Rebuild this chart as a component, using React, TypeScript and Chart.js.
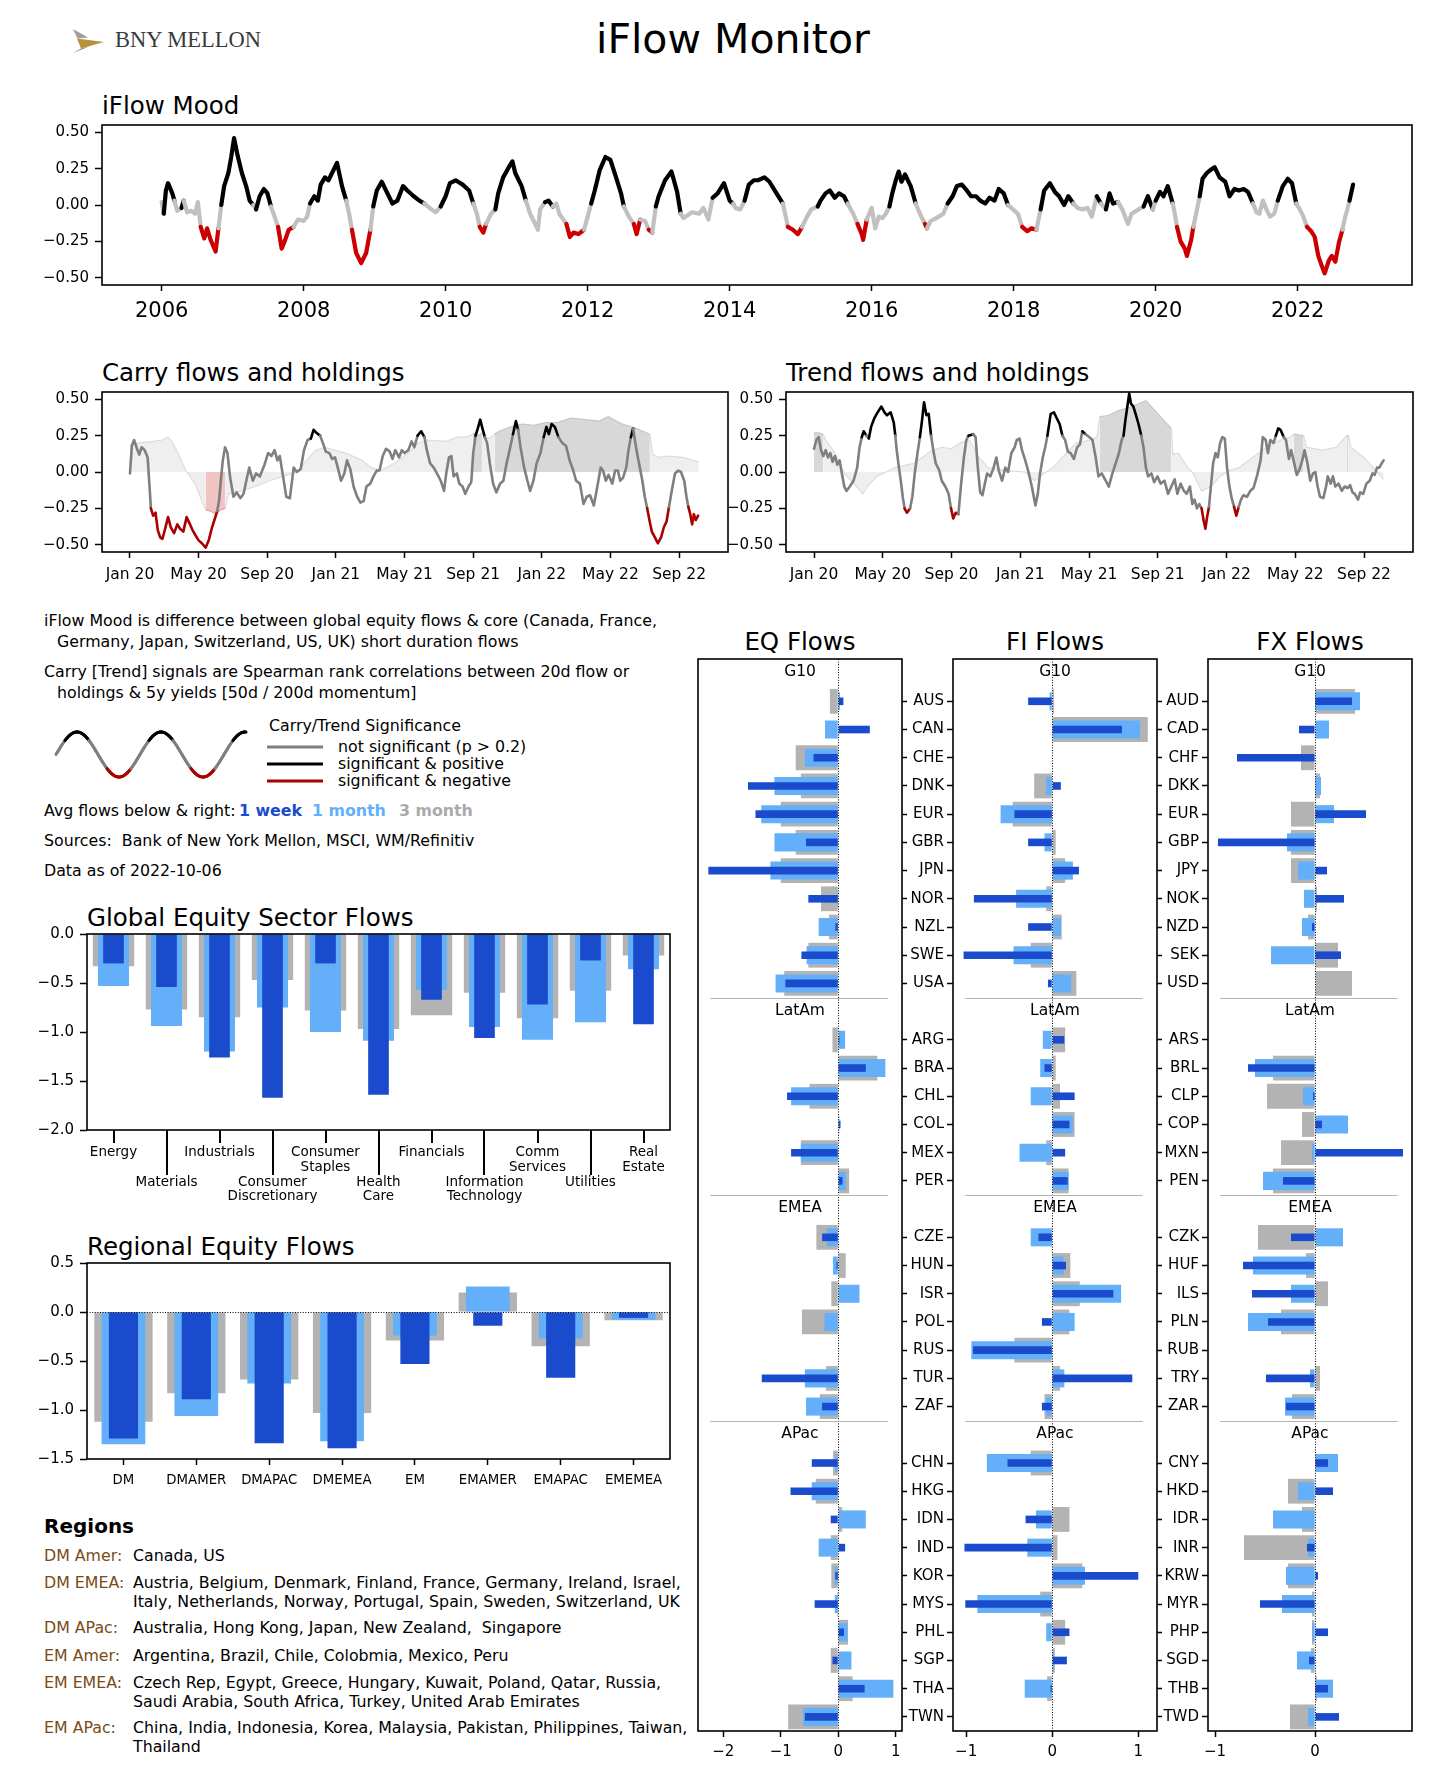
import React, { useEffect, useRef } from 'react';
import { Chart, registerables } from 'chart.js';

Chart.register(...registerables);

const FONT = '"DejaVu Sans", "Noto Sans", sans-serif';
const SERIF = '"Liberation Serif", "DejaVu Serif", serif';
Chart.defaults.font.family = FONT;
Chart.defaults.color = '#000';

// ======================= DATA =======================
// iFlow Mood (year, value)
const moodYears = [
  2006.00,2006.03,2006.06,2006.09,2006.15,2006.18,2006.22,2006.28,2006.31,2006.36,
  2006.42,2006.47,2006.51,2006.55,2006.60,2006.64,2006.69,2006.76,2006.80,2006.84,
  2006.88,2006.94,2006.98,2007.02,2007.07,2007.13,2007.19,2007.24,2007.29,2007.33,
  2007.38,2007.44,2007.49,2007.54,2007.59,2007.64,2007.69,2007.74,2007.79,2007.86,
  2007.92,2008.00,2008.05,2008.09,2008.15,2008.20,2008.24,2008.30,2008.35,2008.40,
  2008.47,2008.54,2008.60,2008.64,2008.68,2008.74,2008.81,2008.88,2008.94,2008.98,
  2009.03,2009.10,2009.18,2009.25,2009.32,2009.40,2009.46,2009.55,2009.63,2009.70,
  2009.80,2009.86,2009.93,2010.00,2010.06,2010.14,2010.24,2010.33,2010.39,2010.44,
  2010.48,2010.53,2010.57,2010.64,2010.70,2010.74,2010.81,2010.89,2010.94,2010.98,
  2011.07,2011.13,2011.19,2011.23,2011.30,2011.33,2011.40,2011.45,2011.51,2011.56,
  2011.60,2011.70,2011.75,2011.80,2011.87,2011.95,2012.00,2012.05,2012.10,2012.17,
  2012.25,2012.32,2012.40,2012.47,2012.51,2012.58,2012.65,2012.69,2012.74,2012.81,
  2012.86,2012.91,2012.96,2013.00,2013.09,2013.18,2013.26,2013.31,2013.35,2013.47,
  2013.57,2013.63,2013.70,2013.76,2013.83,2013.92,2014.00,2014.05,2014.08,2014.15,
  2014.21,2014.27,2014.34,2014.40,2014.49,2014.56,2014.66,2014.75,2014.79,2014.82,
  2014.89,2014.96,2015.02,2015.09,2015.15,2015.24,2015.28,2015.35,2015.41,2015.48,
  2015.54,2015.61,2015.66,2015.74,2015.80,2015.86,2015.88,2015.93,2016.00,2016.05,
  2016.10,2016.15,2016.20,2016.25,2016.29,2016.34,2016.38,2016.42,2016.47,2016.55,
  2016.62,2016.68,2016.75,2016.78,2016.83,2016.91,2017.01,2017.07,2017.14,2017.20,
  2017.27,2017.34,2017.40,2017.47,2017.53,2017.60,2017.66,2017.73,2017.79,2017.86,
  2017.92,2017.99,2018.06,2018.12,2018.19,2018.25,2018.32,2018.38,2018.43,2018.51,
  2018.58,2018.64,2018.71,2018.77,2018.84,2018.90,2018.97,2019.04,2019.10,2019.17,
  2019.23,2019.30,2019.35,2019.40,2019.47,2019.53,2019.61,2019.66,2019.76,2019.83,
  2019.89,2019.96,2020.00,2020.06,2020.11,2020.17,2020.24,2020.27,2020.30,2020.35,
  2020.41,2020.44,2020.50,2020.53,2020.57,2020.62,2020.66,2020.72,2020.77,2020.83,
  2020.90,2020.98,2021.04,2021.11,2021.17,2021.24,2021.30,2021.37,2021.42,2021.46,
  2021.51,2021.56,2021.61,2021.67,2021.72,2021.79,2021.86,2021.92,2021.98,2022.03,
  2022.08,2022.13,2022.19,2022.24,2022.29,2022.34,2022.38,2022.44,2022.48,2022.53,
  2022.58,2022.63,2022.67,2022.70,2022.73,2022.78,
];
const moodValues = [
  0.02,-0.06,0.10,0.15,0.08,0.03,-0.04,-0.02,0.03,-0.05,
  -0.04,-0.06,0.02,-0.15,-0.23,-0.16,-0.24,-0.32,-0.16,0.00,
  0.13,0.22,0.33,0.46,0.34,0.22,0.13,0.03,0.00,-0.03,
  0.06,0.11,0.08,-0.01,-0.08,-0.15,-0.30,-0.24,-0.17,-0.15,
  -0.10,-0.11,-0.08,0.01,0.06,0.03,0.14,0.19,0.17,0.22,
  0.29,0.13,0.03,-0.06,-0.17,-0.33,-0.40,-0.33,-0.17,-0.01,
  0.10,0.16,0.08,0.01,0.03,0.13,0.10,0.06,0.03,0.01,
  -0.03,-0.05,-0.01,0.06,0.15,0.17,0.14,0.10,0.01,-0.06,
  -0.15,-0.19,-0.13,-0.06,-0.03,0.08,0.19,0.26,0.30,0.22,
  0.13,0.03,-0.06,-0.10,-0.17,-0.03,0.02,0.03,-0.01,0.01,
  -0.06,-0.13,-0.22,-0.19,-0.20,-0.17,-0.08,0.01,0.10,0.24,
  0.33,0.31,0.19,0.08,-0.01,-0.08,-0.13,-0.20,-0.10,-0.11,
  -0.17,-0.19,-0.01,0.06,0.17,0.23,0.09,-0.06,-0.09,-0.05,
  -0.06,-0.02,-0.10,0.05,0.08,0.15,0.03,0.01,-0.02,-0.03,
  0.03,0.14,0.17,0.17,0.19,0.16,0.08,0.01,-0.08,-0.15,
  -0.17,-0.20,-0.15,-0.08,-0.03,-0.01,0.03,0.08,0.10,0.05,
  0.08,0.06,0.01,-0.06,-0.13,-0.20,-0.24,-0.10,-0.02,-0.16,
  -0.08,-0.09,-0.06,-0.01,0.08,0.17,0.23,0.16,0.21,0.13,
  0.01,-0.06,-0.13,-0.16,-0.11,-0.09,-0.06,0.01,0.06,0.13,
  0.14,0.10,0.06,0.06,0.03,0.01,0.05,0.03,0.11,0.08,
  0.00,-0.03,-0.06,-0.15,-0.18,-0.16,-0.17,-0.03,0.10,0.15,
  0.09,0.06,0.00,0.06,0.01,-0.02,-0.03,-0.02,-0.08,0.06,
  0.01,-0.03,0.08,0.01,0.02,-0.03,-0.13,-0.06,-0.03,-0.01,
  0.06,-0.03,0.03,0.09,0.06,0.13,0.01,-0.06,-0.15,-0.25,
  -0.30,-0.35,-0.24,-0.15,-0.06,0.06,0.18,0.22,0.24,0.26,
  0.19,0.16,0.06,0.11,0.10,0.11,0.09,0.01,-0.05,-0.06,
  0.03,-0.03,-0.08,-0.06,0.03,0.13,0.18,0.15,0.01,-0.03,
  -0.08,-0.15,-0.18,-0.22,-0.35,-0.42,-0.47,-0.38,-0.35,-0.39,
  -0.26,-0.17,-0.08,-0.03,0.03,0.14,
];
const moodYearTicks = [2006, 2008, 2010, 2012, 2014, 2016, 2018, 2020, 2022];
const corrTicks = [-0.5, -0.25, 0, 0.25, 0.5];

// Carry / Trend: x = months since Jan 2020
const monthTicks = [0, 4, 8, 12, 16, 20, 24, 28, 32];
const monthLabels = ['Jan 20', 'May 20', 'Sep 20', 'Jan 21', 'May 21', 'Sep 21', 'Jan 22', 'May 22', 'Sep 22'];

const carryFlowM = [
  0,0.11,0.24,0.41,0.54,0.68,0.86,1.03,1.14,1.22,
  1.35,1.49,1.62,1.76,1.89,2.05,2.22,2.38,2.57,2.76,
  2.92,3.11,3.30,3.46,3.65,3.84,4.00,4.19,4.41,4.59,
  4.76,4.92,5.08,5.19,5.30,5.41,5.54,5.68,5.84,6.03,
  6.22,6.43,6.62,6.78,6.95,7.16,7.35,7.57,7.84,8.05,
  8.24,8.43,8.59,8.73,8.92,9.11,9.32,9.54,9.73,9.95,
  10.14,10.35,10.54,10.70,10.86,11.08,11.24,11.41,11.62,11.78,
  11.95,12.11,12.30,12.49,12.65,12.84,13.03,13.24,13.43,13.62,
  13.78,14.00,14.19,14.38,14.54,14.73,14.92,15.14,15.30,15.46,
  15.68,15.84,16.00,16.22,16.41,16.57,16.76,16.97,17.16,17.30,
  17.49,17.70,17.89,18.11,18.30,18.43,18.59,18.73,18.86,19.05,
  19.19,19.38,19.54,19.73,19.89,20.00,20.14,20.27,20.41,20.54,
  20.68,20.81,20.97,21.16,21.35,21.57,21.76,21.95,22.16,22.32,
  22.49,22.62,22.76,22.97,23.16,23.32,23.51,23.70,23.92,24.11,
  24.27,24.41,24.57,24.76,24.97,25.19,25.41,25.62,25.81,26.00,
  26.22,26.43,26.62,26.81,27.03,27.22,27.43,27.57,27.73,27.89,
  28.11,28.27,28.43,28.57,28.73,28.92,29.05,29.19,29.32,29.49,
  29.68,29.86,30.00,30.14,30.27,30.41,30.59,30.76,30.95,31.11,
  31.27,31.41,31.57,31.76,31.95,32.11,32.30,32.43,32.54,32.65,
  32.76,32.86,32.97,33.11,
];
const carryFlowV = [
  -0.01,0.18,0.22,0.16,0.12,0.17,0.15,0.10,-0.10,-0.25,
  -0.30,-0.28,-0.40,-0.45,-0.46,-0.39,-0.31,-0.38,-0.42,-0.36,
  -0.39,-0.41,-0.31,-0.35,-0.40,-0.44,-0.47,-0.49,-0.52,-0.47,
  -0.39,-0.33,-0.27,-0.20,-0.05,0.08,0.17,0.13,-0.04,-0.17,
  -0.14,-0.18,-0.15,-0.06,0.03,-0.06,-0.01,-0.03,0.05,0.13,
  0.11,0.15,0.08,0.11,-0.03,-0.17,-0.18,0.03,0.00,0.02,
  0.15,0.22,0.23,0.29,0.27,0.25,0.20,0.14,0.13,0.09,
  0.10,0.03,-0.06,-0.01,0.08,0.02,-0.10,-0.17,-0.21,-0.20,
  -0.10,-0.08,-0.03,0.01,0.01,0.11,0.16,0.14,0.09,0.15,
  0.10,0.15,0.13,0.15,0.21,0.17,0.25,0.28,0.24,0.15,
  0.06,0.03,-0.01,-0.06,-0.13,-0.01,0.10,0.11,-0.03,-0.01,
  -0.08,-0.10,-0.15,-0.10,-0.07,0.13,0.25,0.30,0.36,0.30,
  0.24,0.20,0.06,-0.08,-0.14,-0.08,-0.06,0.06,0.17,0.26,
  0.35,0.29,0.17,0.03,-0.06,-0.13,-0.06,0.06,0.13,0.24,
  0.31,0.26,0.33,0.31,0.24,0.20,0.18,0.08,0.02,-0.06,
  -0.08,-0.22,-0.17,-0.16,-0.23,-0.11,0.03,0.01,-0.06,-0.02,
  -0.08,0.01,0.01,-0.06,-0.04,0.03,0.15,0.24,0.30,0.17,
  0.05,-0.06,-0.17,-0.25,-0.33,-0.41,-0.45,-0.49,-0.45,-0.38,
  -0.34,-0.24,-0.13,-0.01,0.01,0.00,-0.06,-0.17,-0.24,-0.29,
  -0.36,-0.29,-0.33,-0.30,
];
const carryHoldM = [
  0,0.54,1.35,1.89,2.22,2.49,2.84,3.25,3.79,4.19,
  4.41,4.73,5.00,5.28,5.55,5.74,6.49,7.31,8.12,8.93,
  9.74,10.28,10.82,11.36,11.90,12.58,13.53,14.07,14.61,15.42,
  16.23,16.77,17.32,18.40,19.07,19.62,19.97,20.16,20.35,20.51,
  20.70,20.97,21.24,21.51,22.19,22.86,23.54,24.22,24.89,25.70,
  26.52,27.33,27.87,28.68,29.49,30.30,30.47,30.84,31.39,32.20,
  33.14,
];
const carryHoldV = [
  0.18,0.20,0.21,0.22,0.24,0.20,0.12,0.01,-0.08,-0.20,
  -0.26,-0.27,-0.29,-0.26,-0.25,-0.15,-0.13,-0.10,-0.06,-0.03,
  0.00,0.08,0.15,0.17,0.15,0.13,0.08,0.03,0.01,0.06,
  0.13,0.20,0.22,0.21,0.24,0.24,0.26,0.27,0.25,0.27,
  0.24,0.23,0.26,0.28,0.31,0.33,0.32,0.34,0.34,0.37,
  0.36,0.35,0.38,0.33,0.30,0.26,0.12,0.10,0.11,0.10,
  0.07,
];
const trendFlowM = [
  0,0.14,0.27,0.41,0.54,0.68,0.81,0.95,1.08,1.22,
  1.35,1.49,1.62,1.76,1.89,2.08,2.30,2.51,2.65,2.78,
  2.89,3.05,3.19,3.32,3.51,3.70,3.92,4.10,4.24,4.46,
  4.64,4.73,4.81,4.94,5.05,5.16,5.27,5.40,5.59,5.72,
  5.86,6.02,6.16,6.29,6.40,6.54,6.67,6.81,6.94,7.08,
  7.29,7.43,7.64,7.83,7.97,8.10,8.24,8.40,8.56,8.72,
  8.86,8.99,9.26,9.40,9.53,9.67,9.80,9.94,10.07,10.26,
  10.45,10.61,10.75,10.94,11.13,11.29,11.48,11.67,11.80,11.96,
  12.10,12.29,12.50,12.69,12.88,13.02,13.15,13.31,13.45,13.58,
  13.77,13.96,14.12,14.29,14.45,14.61,14.77,14.93,15.12,15.31,
  15.47,15.61,15.80,16.01,16.20,16.39,16.55,16.74,16.93,17.15,
  17.36,17.55,17.74,17.90,18.01,18.12,18.23,18.34,18.44,18.58,
  18.71,18.88,19.04,19.17,19.31,19.44,19.63,19.79,19.98,20.17,
  20.39,20.60,20.79,20.98,21.14,21.33,21.52,21.68,21.87,22.01,
  22.14,22.28,22.41,22.55,22.68,22.77,22.87,22.98,23.09,23.22,
  23.36,23.49,23.63,23.76,23.90,24.03,24.17,24.30,24.44,24.57,
  24.71,24.84,24.98,25.20,25.38,25.57,25.79,25.98,26.11,26.28,
  26.41,26.55,26.74,26.87,27.01,27.14,27.33,27.46,27.63,27.76,
  27.90,28.09,28.22,28.41,28.54,28.71,28.87,29.03,29.17,29.30,
  29.44,29.63,29.79,29.89,30.06,30.19,30.33,30.52,30.71,30.87,
  31.06,31.19,31.33,31.46,31.65,31.78,31.95,32.14,32.33,32.49,
  32.62,32.76,32.89,33.03,33.14,
];
const trendFlowV = [
  0.16,0.22,0.24,0.15,0.11,0.15,0.10,0.13,0.07,0.11,
  0.05,0.08,-0.01,-0.10,-0.13,-0.10,-0.06,0.03,0.17,0.24,
  0.28,0.25,0.23,0.31,0.37,0.41,0.45,0.41,0.39,0.41,
  0.34,0.25,0.15,0.03,-0.06,-0.17,-0.25,-0.28,-0.25,-0.17,
  -0.01,0.13,0.24,0.36,0.48,0.39,0.40,0.25,0.15,0.06,
  0.01,-0.06,-0.10,-0.15,-0.25,-0.32,-0.28,-0.29,-0.08,0.10,
  0.22,0.25,0.26,0.24,0.03,-0.14,-0.16,-0.08,-0.01,-0.03,
  0.03,0.10,0.01,-0.06,0.03,0.00,0.13,0.17,0.22,0.23,
  0.15,0.08,-0.01,-0.11,-0.23,-0.15,-0.01,0.10,0.17,0.25,
  0.40,0.41,0.37,0.33,0.25,0.22,0.14,0.13,0.09,0.17,
  0.19,0.28,0.26,0.24,0.22,0.10,-0.03,-0.01,-0.05,-0.10,
  -0.01,0.06,0.13,0.22,0.25,0.36,0.45,0.54,0.47,0.45,
  0.40,0.33,0.25,0.17,0.03,-0.03,-0.01,-0.07,-0.03,-0.08,
  -0.06,-0.15,-0.10,-0.05,-0.15,-0.08,-0.13,-0.15,-0.10,-0.22,
  -0.19,-0.25,-0.22,-0.25,-0.34,-0.39,-0.31,-0.24,-0.10,0.06,
  0.13,0.10,0.20,0.24,0.23,0.03,-0.10,-0.18,-0.24,-0.30,
  -0.24,-0.19,-0.16,-0.17,-0.13,-0.11,-0.02,0.08,0.24,0.22,
  0.13,0.22,0.20,0.25,0.30,0.29,0.24,0.22,0.09,0.15,
  0.08,-0.02,0.01,0.08,0.15,0.06,-0.06,-0.01,0.00,-0.10,
  -0.17,-0.18,-0.10,-0.03,-0.08,-0.03,-0.10,-0.08,-0.13,-0.10,
  -0.11,-0.09,-0.14,-0.15,-0.19,-0.14,-0.15,-0.08,-0.06,-0.01,
  -0.02,0.03,0.03,0.06,0.08,
];
const trendHoldM = [
  0,0.27,0.54,0.68,1.22,1.76,2.30,2.84,3.11,3.65,
  4.19,4.73,5.81,6.89,7.43,7.97,8.51,9.05,9.59,10.13,
  11.21,12.29,12.83,13.37,13.91,14.45,15.26,16.07,16.47,16.61,
  17.15,17.69,18.50,19.31,19.85,20.39,20.79,20.88,21.20,21.74,
  22.01,22.55,23.09,23.63,24.17,24.71,25.52,26.33,27.14,27.73,
  27.90,28.49,28.65,29.57,30.38,31.00,31.10,31.23,31.98,32.79,
  33.14,
];
const trendHoldV = [
  0.27,0.27,0.26,0.22,0.13,-0.01,-0.08,-0.15,-0.10,-0.03,
  0.00,0.03,0.06,0.15,0.17,0.16,0.20,0.22,0.10,0.03,
  0.01,0.00,-0.06,-0.01,0.03,0.10,0.20,0.22,0.24,0.38,
  0.39,0.42,0.45,0.49,0.42,0.35,0.30,0.12,0.13,0.03,
  0.00,-0.13,-0.10,-0.03,0.01,0.03,0.10,0.17,0.22,0.24,
  0.26,0.25,0.17,0.15,0.17,0.25,0.25,0.17,0.10,0.00,
  -0.05,
];

// Global equity sector flows
const sectorNames = [
  ['Energy'], ['Materials'], ['Industrials'], ['Consumer', 'Discretionary'], ['Consumer', 'Staples'],
  ['Health', 'Care'], ['Financials'], ['Information', 'Technology'], ['Comm', 'Services'], ['Utilities'], ['Real', 'Estate'],
];
const sector1w = [-0.30, -0.54, -1.26, -1.67, -0.30, -1.64, -0.67, -1.06, -0.72, -0.27, -0.92];
const sector1m = [-0.53, -0.94, -1.20, -0.75, -1.00, -1.09, -0.57, -0.95, -1.08, -0.90, -0.36];
const sector3m = [-0.33, -0.77, -0.85, -0.47, -0.78, -0.97, -0.83, -0.60, -0.86, -0.58, -0.22];
const sectorTicks = [-2, -1.5, -1, -0.5, 0];

// Regional equity flows
const regionNames = ['DM', 'DMAMER', 'DMAPAC', 'DMEMEA', 'EM', 'EMAMER', 'EMAPAC', 'EMEMEA'];
const region1w = [-1.29, -0.89, -1.34, -1.39, -0.53, -0.14, -0.67, -0.06];
const region1m = [-1.35, -1.06, -0.73, -1.32, -0.24, 0.26, -0.27, -0.08];
const region3m = [-1.12, -0.83, -0.69, -1.03, -0.29, 0.20, -0.35, -0.085];
const regionTicks = [-1.5, -1, -0.5, 0, 0.5];

// EQ / FI / FX flows by country
const groupNames = ['G10', 'LatAm', 'EMEA', 'APac'];
const groupSizes = [11, 6, 7, 10];
const countryCodes = ['AUS','CAN','CHE','DNK','EUR','GBR','JPN','NOR','NZL','SWE','USA','ARG','BRA','CHL','COL','MEX','PER','CZE','HUN','ISR','POL','RUS','TUR','ZAF','CHN','HKG','IDN','IND','KOR','MYS','PHL','SGP','THA','TWN'];
const currencyCodes = ['AUD','CAD','CHF','DKK','EUR','GBP','JPY','NOK','NZD','SEK','USD','ARS','BRL','CLP','COP','MXN','PEN','CZK','HUF','ILS','PLN','RUB','TRY','ZAR','CNY','HKD','IDR','INR','KRW','MYR','PHP','SGD','THB','TWD'];

const eq1w = [0.09,0.55,-0.43,-1.57,-1.44,-0.56,-2.26,-0.52,-0.05,-0.64,-0.92, 0.02,0.48,-0.89,0.04,-0.82,0.075, -0.28,-0.03,0.01,0,0,-1.33,-0.28, -0.46,-0.83,-0.13,0.12,-0.05,-0.41,0.10,-0.10,0.46,-0.58];
const eq1m = [0.03,-0.23,-0.58,-1.11,-1.34,-1.11,-1.18,-0.02,-0.34,-0.55,-1.09, 0.12,0.82,-0.82,0.02,-0.65,0.13, -0.20,-0.09,0.37,-0.24,0,-0.58,-0.56, -0.05,-0.46,0.48,-0.34,-0.06,-0.06,0.16,0.23,0.96,-0.61];
const eq3m = [-0.145,0,-0.74,-0.65,-1.00,-0.74,-1.00,-0.30,-0.16,-0.52,-0.94, -0.10,0.68,-0.50,0,-0.65,0.19, -0.38,0.13,-0.12,-0.63,0,-0.21,-0.32, -0.09,-0.39,0.07,-0.13,-0.12,-0.02,0.17,-0.13,0.25,-0.87];
const fi1w = [-0.28,0.81,0,0.10,-0.44,-0.28,0.31,-0.91,-0.28,-1.03,-0.05, 0.14,-0.09,0.26,0.20,0.15,0.18, -0.16,0.16,0.71,-0.12,-0.92,0.93,-0.12, -0.52,0,-0.31,-1.02,1.00,-1.01,0.20,0.17,-0.02,0];
const fi1m = [-0.03,1.02,0,-0.07,-0.60,-0.09,0.24,-0.42,0.10,-0.45,0.22, -0.11,-0.14,-0.25,0.24,-0.38,0.19, -0.25,0.13,0.80,0.26,-0.94,0.14,-0.07, -0.76,0,-0.19,-0.29,0.38,-0.87,-0.07,0.02,-0.32,0];
const fi3m = [0.02,1.11,0,-0.21,-0.46,0.04,0.15,-0.07,0.11,-0.25,0.28, 0.15,0.04,0.09,0.26,-0.07,0.19, -0.01,0.21,0.32,0.20,-0.44,0.09,-0.09, -0.25,0,0.20,0.06,0.35,-0.14,0.15,0.03,-0.06,0];
const fx1w = [0.37,-0.16,-0.78,0,0.51,-0.97,0.12,0.29,-0.03,0.26,0, 0,-0.67,-0.02,0.07,0.88,-0.32, -0.24,-0.72,-0.63,-0.47,0,-0.49,-0.29, 0.13,0.18,0,-0.08,0.03,-0.55,0.13,-0.06,0.13,0.24];
const fx1m = [0.45,0.14,0,0.06,0.19,-0.28,-0.17,-0.11,-0.13,-0.44,0, 0,-0.60,-0.12,0.33,-0.03,-0.52, 0.28,-0.62,-0.24,-0.67,0,-0.05,-0.30, 0.23,-0.17,-0.42,-0.07,-0.29,-0.33,-0.03,-0.18,0.18,-0.07];
const fx3m = [0.40,0,-0.14,0.05,-0.24,-0.24,-0.24,0.02,-0.07,0.23,0.37, 0,-0.42,-0.48,-0.13,-0.34,-0.42, -0.57,-0.09,0.13,-0.34,0,0.05,-0.23, 0,-0.27,-0.13,-0.71,-0.27,-0.03,-0.03,-0.04,0.02,-0.25];
const eqTicks = [-2, -1, 0, 1];
const fiTicks = [-1, 0, 1];
const fxTicks = [-1, 0];

// Regions legend
const regionRowLabels = ['DM Amer:', 'DM EMEA:', 'DM APac:', 'EM Amer:', 'EM EMEA:', 'EM APac:'];
const regionRowText = [
  ['Canada, US'],
  ['Austria, Belgium, Denmark, Finland, France, Germany, Ireland, Israel,', 'Italy, Netherlands, Norway, Portugal, Spain, Sweden, Switzerland, UK'],
  ['Australia, Hong Kong, Japan, New Zealand,  Singapore'],
  ['Argentina, Brazil, Chile, Colobmia, Mexico, Peru'],
  ['Czech Rep, Egypt, Greece, Hungary, Kuwait, Poland, Qatar, Russia,', 'Saudi Arabia, South Africa, Turkey, United Arab Emirates'],
  ['China, India, Indonesia, Korea, Malaysia, Pakistan, Philippines, Taiwan,', 'Thailand'],
];

// ======================= STYLE =======================
const DARK = '#1a4bcc';
const LIGHT = '#63affa';
const GREY = '#b3b3b3';
const SIG_GREY = '#7f7f7f';
const SIG_RED = '#aa0000';
const MINUS = '\u2212';

const fmt = (v: number, d: number) => (v < -1e-9 ? MINUS : '') + Math.abs(v).toFixed(d);
const pts = (xs: number[], ys: number[]) => xs.map((x, i) => ({ x, y: ys[i] }));
const setTicks = (vals: number[]) => (s: any) => { s.ticks = vals.map((v) => ({ value: v })); };
const zeroPad = (s: any) => { s.paddingLeft = 0; s.paddingRight = 0; s.paddingTop = 0; s.paddingBottom = 0; };
const fixW = (w: number) => (s: any) => { s.width = w; zeroPad(s); };
const fixH = (h: number) => (s: any) => { s.height = h; zeroPad(s); };
const tickGrid = (len: number, color: any = '#000') => ({
  display: true, drawOnChartArea: false, drawTicks: true, tickLength: len, tickWidth: 1.5, tickColor: color, offset: false,
});
const noBorder = { display: false };

const moodColor = (v: number) => (v > 0 ? '#000' : v < -0.145 ? '#cc0000' : '#c0c0c0');
const sigColor = (v: number) => (v > 0.25 ? '#000' : v < -0.25 ? SIG_RED : SIG_GREY);
const holdSig = (c: any) => {
  const a = c.p0.parsed.y, b = c.p1.parsed.y;
  if (Math.min(a, b) > 0.245) return 1;
  if (Math.max(a, b) < -0.245) return -1;
  return 0;
};

const framePlugin = {
  id: 'frame',
  afterDraw(chart: any) {
    const { ctx, chartArea: a } = chart;
    ctx.save();
    ctx.strokeStyle = '#000';
    ctx.lineWidth = 1.6;
    ctx.strokeRect(a.left, a.top, a.right - a.left, a.bottom - a.top);
    ctx.restore();
  },
};

const hZeroPlugin = {
  id: 'hZero',
  afterDatasetsDraw(chart: any) {
    const { ctx, chartArea: a, scales } = chart;
    const y0 = Math.round(scales.y.getPixelForValue(0)) + 0.5;
    ctx.save();
    ctx.strokeStyle = '#000';
    ctx.lineWidth = 1;
    ctx.setLineDash([1, 1.6]);
    ctx.beginPath();
    ctx.moveTo(a.left, y0);
    ctx.lineTo(a.right, y0);
    ctx.stroke();
    ctx.restore();
  },
};

const sectorTickPlugin = {
  id: 'sectorTicks',
  afterDraw(chart: any) {
    const { ctx, chartArea: a, scales } = chart;
    const x = scales.x;
    ctx.save();
    ctx.strokeStyle = '#000';
    ctx.lineWidth = 2;
    x.ticks.forEach((_t: any, i: number) => {
      const px = Math.round(x.getPixelForTick(i));
      const len = i % 2 ? 45 : 13;
      ctx.beginPath();
      ctx.moveTo(px, a.bottom);
      ctx.lineTo(px, a.bottom + len);
      ctx.stroke();
    });
    ctx.restore();
  },
};

// slot layout for the country panels: a header slot before each group
const headerIdx: number[] = [];
(() => { let k = 0; groupSizes.forEach((n) => { headerIdx.push(k); k += n + 1; }); })();
function slots(vals: any[], header: any) {
  const out: any[] = [];
  let k = 0;
  groupSizes.forEach((n) => {
    out.push(header);
    for (let i = 0; i < n; i++) out.push(vals[k++]);
  });
  return out;
}

const flowDecorPlugin = {
  id: 'flowDecor',
  afterDatasetsDraw(chart: any) {
    const { ctx, chartArea: a, scales } = chart;
    const x = scales.x, y = scales.y;
    const w = a.right - a.left;
    ctx.save();
    const x0 = Math.round(x.getPixelForValue(0)) + 0.5;
    ctx.strokeStyle = '#000';
    ctx.lineWidth = 1;
    ctx.setLineDash([1, 1.6]);
    ctx.beginPath();
    ctx.moveTo(x0, a.top);
    ctx.lineTo(x0, a.bottom);
    ctx.stroke();
    ctx.setLineDash([]);
    ctx.strokeStyle = '#b4b4b4';
    headerIdx.slice(1).forEach((h) => {
      const yy = Math.round(y.getPixelForValue(h - 0.5)) + 0.5;
      ctx.beginPath();
      ctx.moveTo(a.left + 0.06 * w, yy);
      ctx.lineTo(a.left + 0.93 * w, yy);
      ctx.stroke();
    });
    ctx.fillStyle = '#000';
    ctx.font = `15.5px ${FONT}`;
    ctx.textAlign = 'center';
    ctx.textBaseline = 'middle';
    headerIdx.forEach((h, i) => ctx.fillText(groupNames[i], (a.left + a.right) / 2, y.getPixelForValue(h) - 1));
    ctx.restore();
  },
};

const baseOptions = (padding: any) => ({
  responsive: false,
  animation: false,
  events: [],
  layout: { padding },
  plugins: { legend: { display: false }, tooltip: { enabled: false }, title: { display: false } },
});

const corrAxis = (w: number) => ({
  min: -0.55, max: 0.55, bounds: 'data',
  afterBuildTicks: setTicks(corrTicks),
  ticks: { autoSkip: false, padding: 6, font: { size: 15 }, callback: (v: number) => fmt(v, 2) },
  grid: tickGrid(7), border: noBorder, afterFit: fixW(w),
});

// ======================= CHART CONFIGS =======================
const makeMood = () => ({
  type: 'line',
  data: {
    datasets: [{
      data: pts(moodYears, moodValues), borderColor: '#000', borderWidth: 4.2, pointRadius: 0,
      borderCapStyle: 'round', borderJoinStyle: 'round',
      segment: { borderColor: (c: any) => moodColor((c.p0.parsed.y + c.p1.parsed.y) / 2) },
    }],
  },
  options: {
    ...baseOptions({ top: 10, right: 18, left: 0, bottom: 0 }),
    scales: {
      x: {
        type: 'linear', min: 2005.16, max: 2023.61, bounds: 'data',
        afterBuildTicks: setTicks(moodYearTicks),
        ticks: { autoSkip: false, maxRotation: 0, padding: 8, font: { size: 21 }, callback: (v: number) => String(v) },
        grid: tickGrid(6), border: noBorder, afterFit: fixH(40),
      },
      y: corrAxis(72),
    },
  },
  plugins: [framePlugin],
});

const makeSignal = (fm: number[], fv: number[], hm: number[], hv: number[]) => () => ({
  type: 'line',
  data: {
    datasets: [
      {
        data: pts(fm, fv), borderColor: SIG_GREY, borderWidth: 2.6, pointRadius: 0, order: 0,
        borderCapStyle: 'round', borderJoinStyle: 'round',
        segment: { borderColor: (c: any) => sigColor((c.p0.parsed.y + c.p1.parsed.y) / 2) },
      },
      {
        data: pts(hm, hv), borderColor: '#dcdcdc', borderWidth: 1.2, backgroundColor: '#efefef',
        fill: 'origin', pointRadius: 0, order: 1,
        segment: {
          backgroundColor: (c: any) => { const s = holdSig(c); return s > 0 ? '#d8d8d8' : s < 0 ? 'rgba(205,40,40,0.28)' : undefined; },
          borderColor: (c: any) => { const s = holdSig(c); return s > 0 ? '#c6c6c6' : s < 0 ? '#e0a0a0' : undefined; },
        },
      },
    ],
  },
  options: {
    ...baseOptions({ top: 10, right: 17, left: 0, bottom: 0 }),
    scales: {
      x: {
        type: 'linear', min: -1.63, max: 34.85, bounds: 'data',
        afterBuildTicks: setTicks(monthTicks),
        ticks: { autoSkip: false, maxRotation: 0, padding: 8, font: { size: 15.5 }, callback: (v: number) => monthLabels[monthTicks.indexOf(v)] || '' },
        grid: tickGrid(6), border: noBorder, afterFit: fixH(38),
      },
      y: corrAxis(72),
    },
  },
  plugins: [framePlugin],
});

const barSets = (w1: any[], m1: any[], m3: any[], p: number[]) => [
  { data: w1, backgroundColor: DARK, barPercentage: p[0], categoryPercentage: 1, grouped: false, order: 0, borderWidth: 0 },
  { data: m1, backgroundColor: LIGHT, barPercentage: p[1], categoryPercentage: 1, grouped: false, order: 1, borderWidth: 0 },
  { data: m3, backgroundColor: GREY, barPercentage: p[2], categoryPercentage: 1, grouped: false, order: 2, borderWidth: 0 },
];

const makeSector = () => ({
  type: 'bar',
  data: { labels: sectorNames.map((n) => n.join(' ')), datasets: barSets(sector1w, sector1m, sector3m, [0.39, 0.585, 0.78]) },
  options: {
    ...baseOptions({ top: 14, right: 20, left: 0, bottom: 0 }),
    scales: {
      x: {
        type: 'category', offset: true,
        ticks: {
          autoSkip: false, maxRotation: 0, padding: 15, font: { size: 13.5, lineHeight: 1.1 },
          callback: (_v: any, i: number) => (i % 2 ? ['', '', ...sectorNames[i]] : sectorNames[i]),
        },
        grid: { display: false, drawTicks: false, offset: false }, border: noBorder, afterFit: fixH(100),
      },
      y: {
        min: -2, max: 0, bounds: 'data', afterBuildTicks: setTicks(sectorTicks),
        ticks: { autoSkip: false, padding: 6, font: { size: 15 }, callback: (v: number) => fmt(v, 1) },
        grid: tickGrid(7), border: noBorder, afterFit: fixW(67),
      },
    },
  },
  plugins: [framePlugin, sectorTickPlugin],
});

const makeRegion = () => ({
  type: 'bar',
  data: { labels: regionNames, datasets: barSets(region1w, region1m, region3m, [0.4, 0.6, 0.8]) },
  options: {
    ...baseOptions({ top: 13, right: 20, left: 0, bottom: 0 }),
    scales: {
      x: {
        type: 'category', offset: true,
        ticks: { autoSkip: false, maxRotation: 0, padding: 8, font: { size: 13.3 } },
        grid: tickGrid(6), border: noBorder, afterFit: fixH(51),
      },
      y: {
        min: -1.5, max: 0.5, bounds: 'data', afterBuildTicks: setTicks(regionTicks),
        ticks: { autoSkip: false, padding: 6, font: { size: 15 }, callback: (v: number) => fmt(v, 1) },
        grid: tickGrid(7), border: noBorder, afterFit: fixW(67),
      },
    },
  },
  plugins: [framePlugin, hZeroPlugin],
});

type FlowKind = 'EQ' | 'FI' | 'FX';
const makeFlow = (kind: FlowKind) => () => {
  const codes = kind === 'FX' ? currencyCodes : countryCodes;
  const labels = slots(codes, '');
  const [w1, m1, m3] = kind === 'EQ' ? [eq1w, eq1m, eq3m] : kind === 'FI' ? [fi1w, fi1m, fi3m] : [fx1w, fx1m, fx3m];
  const [xmin, xmax, xt] = kind === 'EQ' ? [-2.44, 1.11, eqTicks] : kind === 'FI' ? [-1.153, 1.217, fiTicks] : [-1.07, 0.97, fxTicks];
  const tickCol = (c: any) => (labels[c.index] ? '#000' : 'rgba(0,0,0,0)');
  const scales: any = {
    x: {
      type: 'linear', min: xmin, max: xmax, bounds: 'data', afterBuildTicks: setTicks(xt as number[]),
      ticks: { autoSkip: false, maxRotation: 0, padding: 6, font: { size: 15 }, callback: (v: number) => fmt(v, 0) },
      grid: tickGrid(6), border: noBorder, afterFit: fixH(49),
    },
  };
  if (kind === 'EQ') {
    scales.y = {
      type: 'category', position: 'right', offset: true,
      ticks: { display: false, autoSkip: false },
      grid: tickGrid(5, tickCol), border: noBorder, afterFit: fixW(13),
    };
  } else {
    scales.y = {
      type: 'category', position: 'left', offset: true,
      ticks: { autoSkip: false, padding: 3, font: { size: 15 } },
      grid: tickGrid(6, tickCol), border: noBorder, afterFit: fixW(56),
    };
    if (kind === 'FI') {
      scales.y2 = {
        type: 'category', position: 'right', offset: true,
        ticks: { display: false, autoSkip: false },
        grid: tickGrid(5, tickCol), border: noBorder, afterFit: fixW(13),
      };
    }
  }
  const padding = kind === 'EQ' ? { top: 19, left: 8, right: 0, bottom: 0 } : kind === 'FI' ? { top: 19, left: 0, right: 0, bottom: 0 } : { top: 19, left: 0, right: 13, bottom: 0 };
  return {
    type: 'bar',
    data: { labels, datasets: barSets(slots(w1, null), slots(m1, null), slots(m3, null), [0.27, 0.64, 0.88]) },
    options: { ...baseOptions(padding), indexAxis: 'y', scales },
    plugins: [flowDecorPlugin, framePlugin],
  };
};

// ======================= COMPONENTS =======================
function ChartCanvas({ x, y, w, h, make }: { x: number; y: number; w: number; h: number; make: () => any }) {
  const ref = useRef<HTMLCanvasElement | null>(null);
  useEffect(() => {
    const chart = new Chart(ref.current as HTMLCanvasElement, make());
    return () => chart.destroy();
  }, []);
  return <canvas ref={ref} width={w} height={h} style={{ position: 'absolute', left: x, top: y, width: w, height: h }} />;
}

function Txt({ x, y, s, c = '#000', w = 'normal', f = FONT, center = false, base = 0.846, children }: any) {
  return (
    <div
      style={{
        position: 'absolute', left: x, top: y - base * s, fontSize: s, lineHeight: `${s}px`, height: s,
        whiteSpace: 'pre', color: c, fontWeight: w, fontFamily: f,
        transform: center ? 'translateX(-50%)' : undefined,
      }}
    >
      {children}
    </div>
  );
}

function Decorations() {
  const segs: any[] = [];
  for (let i = 0; i < 190; i++) {
    const xa = 56 + i, xb = 57 + i;
    const sa = Math.sin((2 * Math.PI * (xa - 56)) / 84);
    const sb = Math.sin((2 * Math.PI * (xb - 56)) / 84);
    const sm = (sa + sb) / 2;
    const col = sm > 0.62 ? '#000' : sm < -0.62 ? SIG_RED : SIG_GREY;
    segs.push(<line key={i} x1={xa} y1={754.5 - 22.5 * sa} x2={xb} y2={754.5 - 22.5 * sb} stroke={col} strokeWidth={3} strokeLinecap="round" />);
  }
  return (
    <svg width={1456} height={1780} style={{ position: 'absolute', left: 0, top: 0 }}>
      <polygon points="73,29 88,37.5 77.5,38.5" fill="#9e9e9e" />
      <polygon points="77,38.5 104,42 81,48.5" fill="#b8913a" />
      <polygon points="73,53 81,48.5 90,46.3" fill="#a08a5c" />
      {segs}
      <line x1={267} y1={747} x2={323} y2={747} stroke={SIG_GREY} strokeWidth={3} />
      <line x1={267} y1={764} x2={323} y2={764} stroke="#000" strokeWidth={3} />
      <line x1={267} y1={781} x2={323} y2={781} stroke={SIG_RED} strokeWidth={3} />
    </svg>
  );
}

export default function App() {
  useEffect(() => {
    document.body.style.margin = '0';
  }, []);
  const B = 15.8;
  const rowBase = [1561, 1588, 1633, 1661, 1688, 1733];
  return (
    <div style={{ position: 'absolute', left: 0, top: 0, width: 1456, height: 1780, background: '#fff', overflow: 'hidden' }}>
      <Decorations />
      <Txt x={115} y={48} s={22.5} f={SERIF} c="#3a3a3a" base={0.8375}>BNY MELLON</Txt>
      <Txt x={596} y={54} s={41}>iFlow Monitor</Txt>

      <Txt x={102} y={115} s={24.5}>iFlow Mood</Txt>
      <Txt x={102} y={382} s={24.5}>Carry flows and holdings</Txt>
      <Txt x={786} y={382} s={24.5}>Trend flows and holdings</Txt>

      <Txt x={44} y={626} s={B}>iFlow Mood is difference between global equity flows &amp; core (Canada, France,</Txt>
      <Txt x={57} y={647} s={B}>Germany, Japan, Switzerland, US, UK) short duration flows</Txt>
      <Txt x={44} y={677} s={B}>Carry [Trend] signals are Spearman rank correlations between 20d flow or</Txt>
      <Txt x={57} y={698} s={B}>holdings &amp; 5y yields [50d / 200d momentum]</Txt>
      <Txt x={269} y={731} s={B}>Carry/Trend Significance</Txt>
      <Txt x={338} y={752} s={B}>not significant (p &gt; 0.2)</Txt>
      <Txt x={338} y={769} s={B}>significant &amp; positive</Txt>
      <Txt x={338} y={786} s={B}>significant &amp; negative</Txt>
      <Txt x={44} y={816} s={B}>Avg flows below &amp; right:</Txt>
      <Txt x={239} y={816} s={B} w="bold" c={DARK}>1 week</Txt>
      <Txt x={312} y={816} s={B} w="bold" c={LIGHT}>1 month</Txt>
      <Txt x={399} y={816} s={B} w="bold" c="#aaaaaa">3 month</Txt>
      <Txt x={44} y={846} s={B}>Sources:  Bank of New York Mellon, MSCI, WM/Refinitiv</Txt>
      <Txt x={44} y={876} s={B}>Data as of 2022-10-06</Txt>

      <Txt x={87} y={927} s={24.5}>Global Equity Sector Flows</Txt>
      <Txt x={87} y={1256} s={24.5}>Regional Equity Flows</Txt>

      <Txt x={44} y={1533} s={20} w="bold">Regions</Txt>
      {regionRowLabels.map((lab, i) => (
        <React.Fragment key={lab}>
          <Txt x={44} y={rowBase[i]} s={B} c="#7a4b16">{lab}</Txt>
          {regionRowText[i].map((t, j) => (
            <Txt key={j} x={133} y={rowBase[i] + j * 19} s={B}>{t}</Txt>
          ))}
        </React.Fragment>
      ))}

      <Txt x={800} y={651} s={24.5} center>EQ Flows</Txt>
      <Txt x={1055} y={651} s={24.5} center>FI Flows</Txt>
      <Txt x={1310} y={651} s={24.5} center>FX Flows</Txt>

      <ChartCanvas x={30} y={115} w={1400} h={210} make={makeMood} />
      <ChartCanvas x={30} y={382} w={715} h={208} make={makeSignal(carryFlowM, carryFlowV, carryHoldM, carryHoldV)} />
      <ChartCanvas x={714} y={382} w={716} h={208} make={makeSignal(trendFlowM, trendFlowV, trendHoldM, trendHoldV)} />
      <ChartCanvas x={20} y={920} w={670} h={310} make={makeSector} />
      <ChartCanvas x={20} y={1250} w={670} h={260} make={makeRegion} />
      <ChartCanvas x={690} y={640} w={225} h={1140} make={makeFlow('EQ')} />
      <ChartCanvas x={897} y={640} w={273} h={1140} make={makeFlow('FI')} />
      <ChartCanvas x={1152} y={640} w={273} h={1140} make={makeFlow('FX')} />
    </div>
  );
}
